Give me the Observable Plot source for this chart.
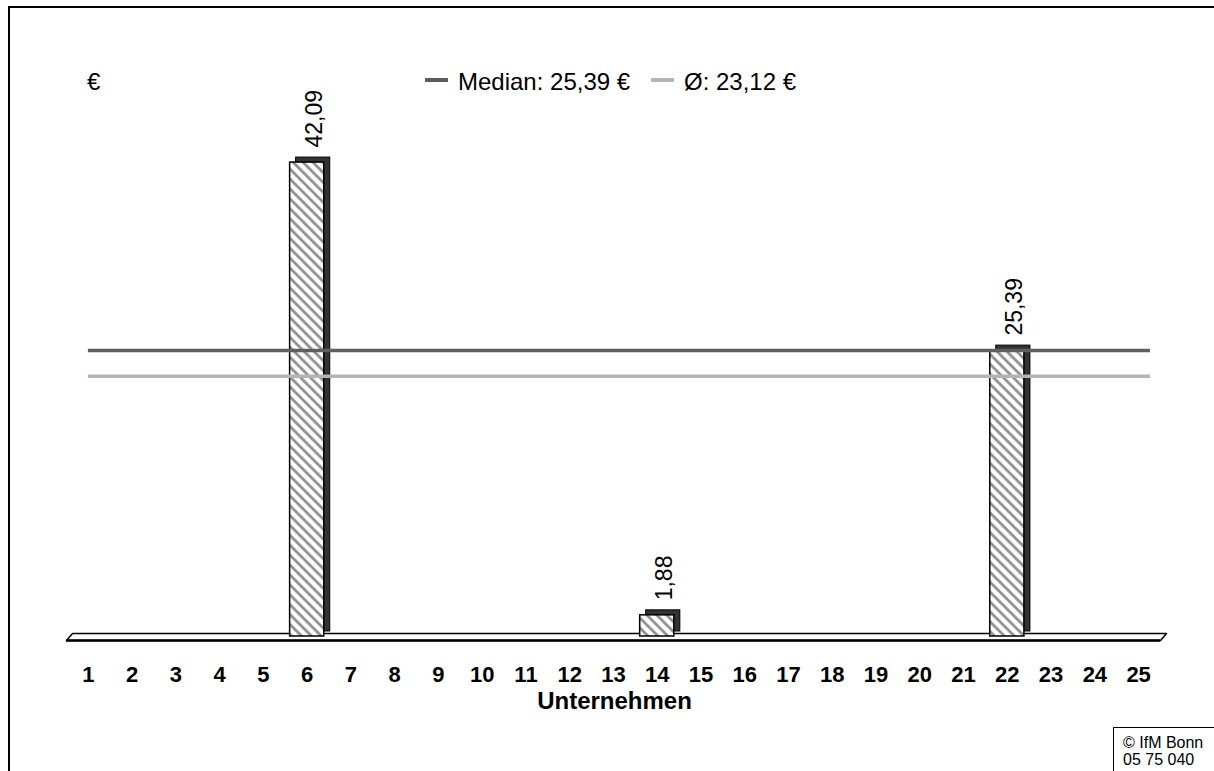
<!DOCTYPE html>
<html><head><meta charset="utf-8">
<script src="https://cdn.jsdelivr.net/npm/d3@7"></script>
<script src="https://cdn.jsdelivr.net/npm/@observablehq/plot@0.6"></script>
<style>
body{margin:0;background:#fff;font-family:"Liberation Sans",Arial,sans-serif;}
#wrap{position:relative;width:1214px;height:771px;overflow:hidden;}
#frame{position:absolute;left:8px;top:6px;width:1300px;height:900px;border-left:2px solid #000;border-top:2px solid #000;}
.t{position:absolute;font-size:24px;color:#000;white-space:nowrap;line-height:1;}
.sw{position:absolute;height:4px;width:23px;}
#credit{position:absolute;left:1113px;top:727px;width:200px;height:100px;border-left:1px solid #000;border-top:1px solid #000;font-size:16px;line-height:17px;padding:6px 0 0 9px;white-space:nowrap;}
#xlab{position:absolute;top:689px;left:0;width:1229px;text-align:center;font-weight:bold;font-size:24px;line-height:1;}
#chart{position:absolute;left:0;top:0;}
</style></head><body><div id="wrap"><div id="chart"></div><div id="frame"></div></div>
<script>
const companies = [1,2,3,4,5,6,7,8,9,10,11,12,13,14,15,16,17,18,19,20,21,22,23,24,25];
const costs = [null,null,null,null,null,42.09,null,null,null,null,null,null,null,1.88,null,null,null,null,null,null,null,25.39,null,null,null];
const medianValue = 25.39;
const meanValue = 23.12;
const legendLabels = ["Median: 25,39 €", "Ø: 23,12 €"];
const unitLabel = "€";
const xLabel = "Unternehmen";
const creditLines = ["© IfM Bonn", "05 75 040"];

const W = 1214, H = 771, mL = 66, mR = 54, mT = 73, mB = 135;
const xDomain = [0.5, 25.5], yDomain = [0, 50];
const kx = (W - mL - mR) / (xDomain[1] - xDomain[0]);
const ky = (H - mT - mB) / (yDomain[1] - yDomain[0]);
const depthX = 6, depthY = 5, barHalf = 0.39, lineOverhang = 0.27;
const fmt = v => v.toFixed(2).replace(".", ",");

const data = companies.map((c, i) => ({company: c, value: costs[i]})).filter(d => d.value != null);

const fx0 = xDomain[0], fx1 = xDomain[1];
const front = -4 / ky, back = 3 / ky, shift = depthX / kx;
const floor = [
  {x: fx0, y: front}, {x: fx1, y: front}, {x: fx1 + shift, y: back}, {x: fx0 + shift, y: back}, {x: fx0, y: front}
];

const plot = Plot.plot({
  width: W, height: H,
  marginLeft: mL, marginRight: mR, marginTop: mT, marginBottom: mB,
  style: {fontFamily: "'Liberation Sans', Arial, sans-serif", background: "transparent", overflow: "visible"},
  x: {domain: xDomain, axis: null},
  y: {domain: yDomain, axis: null},
  marks: [
    Plot.line(floor, {x: "x", y: "y", stroke: "#000", strokeWidth: 1.5, fill: "#fff"}),
    Plot.ruleY([front], {x1: fx0, x2: fx1, stroke: "#000", strokeWidth: 2.5}),
    Plot.rect(data, {x1: d => d.company - barHalf, x2: d => d.company + barHalf, y1: 0, y2: "value", dx: depthX, dy: -depthY, fill: "#333", stroke: "#000", strokeWidth: 1}),
    Plot.rect(data, {x1: d => d.company - barHalf, x2: d => d.company + barHalf, y1: 0, y2: "value", fill: "url(#hatch)", stroke: "#000", strokeWidth: 1.5}),
    Plot.ruleY([medianValue], {x1: companies[0], x2: companies[companies.length - 1] + lineOverhang, stroke: "#5f5f5f", strokeWidth: 3.5}),
    Plot.ruleY([meanValue], {x1: companies[0], x2: companies[companies.length - 1] + lineOverhang, stroke: "#b4b4b4", strokeWidth: 3.5}),
    Plot.text(data, {x: "company", y: "value", text: d => fmt(d.value), rotate: -90, textAnchor: "start", dx: 7, dy: -15, fontSize: 23, fill: "#000"}),
    Plot.text(companies, {x: d => d, y: 0, text: d => String(d), dy: 38, fontSize: 22, fontWeight: "bold", fill: "#000"})
  ]
});
d3.select(plot).insert("defs", ":first-child").html(
  '<pattern id="hatch" patternUnits="userSpaceOnUse" width="7" height="7" patternTransform="rotate(-45)">' +
  '<rect width="7" height="7" fill="#fff"/><line x1="1.5" y1="0" x2="1.5" y2="7" stroke="#8a8a8a" stroke-width="2.6"/></pattern>');
document.getElementById("chart").appendChild(plot);

const wrap = document.getElementById("wrap");
function addText(txt, left, top, cls) {
  const el = document.createElement("div");
  el.className = cls || "t"; el.textContent = txt;
  el.style.left = left + "px"; el.style.top = top + "px";
  wrap.appendChild(el); return el;
}
addText(unitLabel, 87, 70);
const sw1 = document.createElement("div"); sw1.className = "sw"; sw1.style.cssText = "left:425px;top:78px;background:#5f5f5f"; wrap.appendChild(sw1);
addText(legendLabels[0], 458, 70);
const sw2 = document.createElement("div"); sw2.className = "sw"; sw2.style.cssText = "left:651px;top:78px;background:#b4b4b4"; wrap.appendChild(sw2);
addText(legendLabels[1], 684, 70);
const xl = document.createElement("div"); xl.id = "xlab"; xl.textContent = xLabel; wrap.appendChild(xl);
const cr = document.createElement("div"); cr.id = "credit"; cr.innerHTML = creditLines.join("<br>"); wrap.appendChild(cr);
</script></body></html>
